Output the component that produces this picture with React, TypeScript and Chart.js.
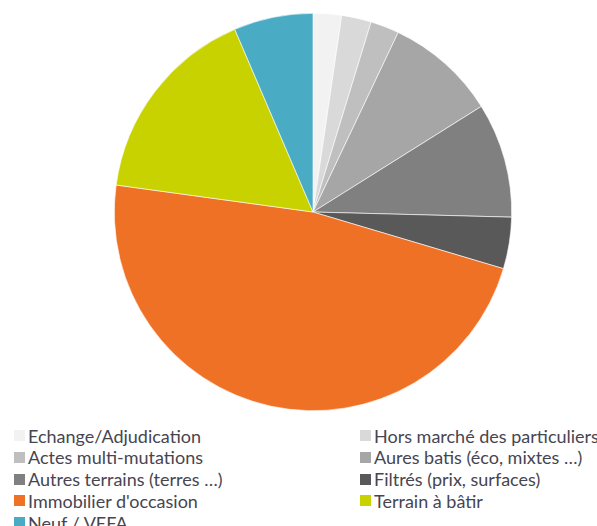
import React, { useEffect, useRef } from "react";
import { Chart, registerables } from "chart.js";

Chart.register(...registerables);

const categories = [
  "Echange/Adjudication",
  "Hors marché des particuliers",
  "Actes multi-mutations",
  "Aures batis (éco, mixtes …)",
  "Autres terrains (terres …)",
  "Filtrés (prix, surfaces)",
  "Immobilier d'occasion",
  "Terrain à bâtir",
  "Neuf / VEFA",
];
const shares = [2.31, 2.41, 2.33, 9.03, 9.33, 4.19, 47.56, 16.39, 6.44];
const colors = [
  "#f2f2f2",
  "#d9d9d9",
  "#bfbfbf",
  "#a6a6a6",
  "#808080",
  "#595959",
  "#ef7126",
  "#c8d200",
  "#4aabc5",
];

export default function App() {
  const ref = useRef<HTMLCanvasElement | null>(null);
  useEffect(() => {
    if (!ref.current) return;
    const chart = new Chart(ref.current, {
      type: "pie",
      data: {
        labels: categories,
        datasets: [
          {
            data: shares,
            backgroundColor: colors,
            borderColor: "#ffffff",
            borderWidth: 0.6,
          },
        ],
      },
      options: {
        responsive: false,
        animation: false,
        layout: { padding: { left: 114, right: 85, top: 13, bottom: 9 } },
        plugins: { legend: { display: false }, tooltip: { enabled: false } },
      },
    });
    return () => chart.destroy();
  }, []);

  const rowTop = 424.5;
  const rowH = 21.8;
  return (
    <div style={{ position: "absolute", left: 0, top: 0, width: 597, height: 526, overflow: "hidden", background: "#fff" }}>
      <canvas ref={ref} width={597} height={420} style={{ position: "absolute", left: 0, top: 0 }} />
      {categories.map((c, i) => {
        const col = i % 2;
        const row = Math.floor(i / 2);
        const x = col === 0 ? 14 : 360;
        const y = rowTop + row * rowH;
        return (
          <div
            key={c}
            style={{
              position: "absolute",
              left: x,
              top: y,
              height: 22,
              display: "flex",
              alignItems: "center",
              whiteSpace: "nowrap",
              fontFamily: "Lato, 'Open Sans', sans-serif",
              fontSize: 18,
              color: "#474551",
            }}
          >
            <span style={{ display: "inline-block", width: 11, height: 11, background: colors[i], marginRight: 3 }} />
            <span>{c}</span>
          </div>
        );
      })}
    </div>
  );
}
